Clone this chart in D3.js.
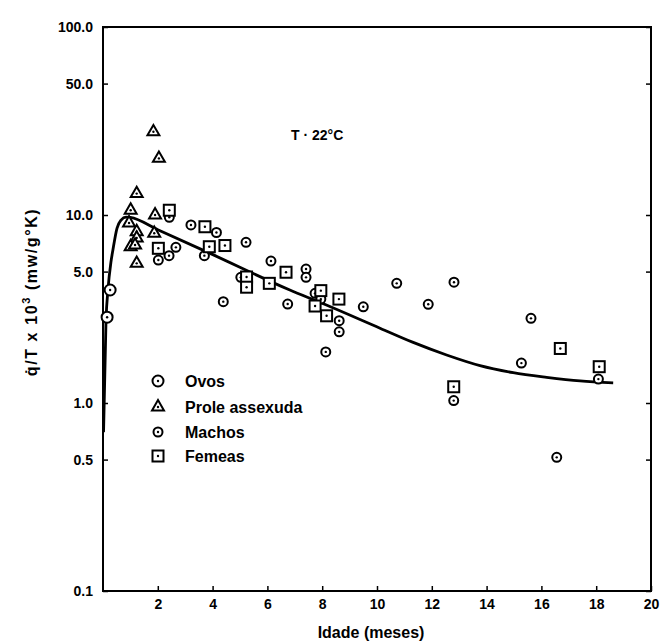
<!DOCTYPE html>
<html>
<head>
<meta charset="utf-8">
<script src="https://cdn.jsdelivr.net/npm/d3@7"></script>
<style>
  body { margin: 0; background: #fff; }
  text { font-family: "Liberation Sans", Arial, sans-serif; font-weight: bold; fill: #000; }
</style>
</head>
<body>
<div id="chart"></div>
<script>
// [idade (meses), q/T x 10^3]
var ovos = [[0.15, 2.86], [0.26, 3.99]];
var prole = [[1.84, 27.7], [2.04, 20.0], [1.23, 13.0], [1.01, 10.6], [0.95, 9.07], [1.23, 8.15],
    [1.23, 7.54], [1.01, 6.78], [1.17, 6.92], [1.23, 5.53], [1.90, 10.0], [1.87, 7.99]];
var machos = [[2.42, 9.72], [3.21, 8.85], [4.14, 8.07], [2.66, 6.73], [2.41, 6.08], [2.02, 5.76],
    [3.70, 6.08], [5.22, 7.16], [6.13, 5.69], [7.41, 5.16], [7.41, 4.66], [5.03, 4.66],
    [4.39, 3.46], [6.74, 3.36], [7.74, 3.83], [7.95, 3.57], [9.50, 3.25], [8.62, 2.74],
    [8.62, 2.39], [8.13, 1.87], [10.72, 4.33], [12.81, 4.39], [11.87, 3.35], [15.62, 2.82],
    [15.27, 1.63], [12.80, 1.03], [18.08, 1.34], [16.56, 0.514]];
var femeas = [[2.42, 10.6], [3.72, 8.66], [2.02, 6.65], [3.88, 6.78], [4.45, 6.88], [5.24, 4.68],
    [5.24, 4.13], [6.07, 4.33], [6.68, 4.96], [7.95, 3.96], [7.74, 3.28], [8.16, 2.91],
    [8.61, 3.57], [12.80, 1.22], [16.69, 1.95], [18.11, 1.56]];
// curva ajustada
var curva = [[0.02, 0.7], [0.11, 2.76], [0.18, 3.99], [0.29, 5.62], [0.36, 6.5], [0.51, 8.5],
    [0.66, 9.4], [0.84, 9.75], [1.0, 9.7], [2.0, 8.35], [3.91, 6.25], [6.82, 3.99], [8.0, 3.39],
    [10.11, 2.5], [11.32, 2.1], [12.54, 1.8], [13.76, 1.58], [14.97, 1.45], [16.19, 1.37],
    [17.41, 1.31], [18.62, 1.28]];

var xTicks = [2, 4, 6, 8, 10, 12, 14, 16, 18, 20];
var yTicks = [0.1, 0.5, 1, 5, 10, 50, 100];
var legendNames = ["Ovos", "Prole assexuda", "Machos", "Femeas"];
var legendTypes = ["ovo", "prole", "macho", "femea"];

var width = 664, height = 642;
var plotL = 103, plotR = 651, plotT = 27, plotB = 591;

var svg = d3.select("#chart").append("svg")
    .attr("width", width)
    .attr("height", height);

var x = d3.scaleLinear().domain([0, 20]).range([plotL, plotR]);
var y = d3.scaleLog().domain([0.1, 100]).range([plotB, plotT]);

// eixos
var gx = svg.append("g")
    .attr("transform", "translate(0," + plotB + ")")
    .call(d3.axisBottom(x).tickValues(xTicks).tickSizeInner(-5).tickSizeOuter(0).tickPadding(8));
var gy = svg.append("g")
    .attr("transform", "translate(" + plotL + ",0)")
    .call(d3.axisLeft(y).tickValues(yTicks).tickFormat(d3.format(".1f"))
        .tickSizeInner(-5).tickSizeOuter(0).tickPadding(10));
var gr = svg.append("g")
    .attr("transform", "translate(" + plotR + ",0)")
    .call(d3.axisRight(y).tickValues(yTicks).tickFormat("").tickSizeInner(-5).tickSizeOuter(0));

svg.selectAll(".domain").remove();
svg.selectAll(".tick line").attr("stroke", "#000").attr("stroke-width", 1.5);
gx.selectAll("text").style("font-size", "14px");
gy.selectAll("text").style("font-size", "14px");

svg.append("rect")
    .attr("x", plotL)
    .attr("y", plotT)
    .attr("width", plotR - plotL)
    .attr("height", plotB - plotT)
    .attr("fill", "none")
    .attr("stroke", "#000")
    .attr("stroke-width", 2);

// titulos
svg.append("text")
    .attr("x", 371)
    .attr("y", 638)
    .attr("text-anchor", "middle")
    .style("font-size", "16px")
    .text("Idade (meses)");

var yt = svg.append("text")
    .attr("transform", "translate(37,292) rotate(-90)")
    .attr("text-anchor", "middle")
    .style("font-size", "16px")
    .style("letter-spacing", "1.6px");
yt.append("tspan").text("q\u0307/T x 10");
yt.append("tspan").attr("dy", -7).style("font-size", "11px").text("3");
yt.append("tspan").attr("dy", 7).text(" (mw/g\u00b0K)");

svg.append("text")
    .attr("x", 291)
    .attr("y", 140)
    .style("font-size", "14px")
    .text("T \u00b7 22\u00b0C");

// curva
var line = d3.line()
    .x(function(d) { return x(d[0]); })
    .y(function(d) { return y(d[1]); })
    .curve(d3.curveMonotoneX);

svg.append("path")
    .datum(curva)
    .attr("d", line)
    .attr("fill", "none")
    .attr("stroke", "#000")
    .attr("stroke-width", 2.8);

// marcadores
function marker(g, type) {
    if (type == "ovo") {
        g.append("circle").attr("r", 5.5);
    } else if (type == "prole") {
        g.append("path").attr("d", d3.symbol(d3.symbolTriangle, 62)());
    } else if (type == "macho") {
        g.append("circle").attr("r", 4.5);
    } else {
        g.append("rect").attr("x", -5.5).attr("y", -5.5).attr("width", 11).attr("height", 11);
    }
    g.selectAll("circle, path, rect")
        .attr("fill", "#fff")
        .attr("stroke", "#000")
        .attr("stroke-width", 2);
    g.append("circle").attr("r", 1.2).attr("fill", "#000");
}

var series = [[ovos, "ovo"], [prole, "prole"], [machos, "macho"], [femeas, "femea"]];
series.forEach(function(s) {
    svg.append("g").selectAll("g")
        .data(s[0])
        .enter().append("g")
        .attr("transform", function(d) { return "translate(" + x(d[0]) + "," + y(d[1]) + ")"; })
        .each(function() { marker(d3.select(this), s[1]); });
});

// legenda
var legendY = [381, 407, 432, 456];
var lg = svg.append("g").selectAll("g")
    .data(legendNames)
    .enter().append("g")
    .attr("transform", function(d, i) { return "translate(158," + legendY[i] + ")"; });
lg.each(function(d, i) {
    var g = d3.select(this).append("g");
    marker(g, legendTypes[i]);
});
lg.append("text")
    .attr("x", 27)
    .attr("dy", "0.35em")
    .style("font-size", "16px")
    .text(function(d) { return d; });
</script>
</body>
</html>
